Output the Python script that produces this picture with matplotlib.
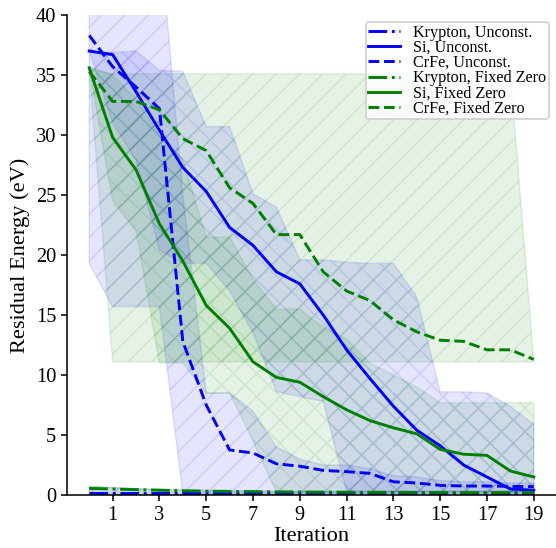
import numpy as np
import matplotlib
matplotlib.use("Agg")
import matplotlib.pyplot as plt

iterations = list(range(20))

# mean residual energy per iteration (eV)
kr_unc = [0.15, 0.15, 0.15, 0.15, 0.15, 0.15, 0.15, 0.15, 0.15, 0.15,
          0.15, 0.15, 0.15, 0.15, 0.15, 0.15, 0.15, 0.15, 0.15, 0.15]
si_unc = [37.0, 36.7, 33.6, 30.4, 27.3, 25.3, 22.3, 20.8, 18.6, 17.6,
          15.0, 12.1, 9.7, 7.4, 5.4, 4.1, 2.5, 1.5, 0.5, 0.4]
crfe_unc = [38.3, 35.7, 34.0, 32.2, 12.8, 7.5, 3.75, 3.5, 2.6, 2.4,
            2.05, 1.95, 1.8, 1.1, 1.0, 0.8, 0.75, 0.75, 0.72, 0.7]
kr_fz = [0.55, 0.5, 0.45, 0.4, 0.35, 0.32, 0.3, 0.28, 0.26, 0.25,
         0.24, 0.23, 0.22, 0.22, 0.21, 0.21, 0.2, 0.2, 0.2, 0.2]
si_fz = [35.6, 29.8, 27.1, 22.6, 19.5, 15.8, 13.9, 11.1, 9.8, 9.4,
         8.2, 7.1, 6.2, 5.6, 5.1, 3.8, 3.4, 3.3, 2.0, 1.5]
crfe_fz = [35.3, 32.8, 32.8, 32.1, 29.7, 28.7, 25.6, 24.3, 21.7, 21.7,
           18.6, 17.0, 16.2, 14.6, 13.6, 12.9, 12.8, 12.1, 12.1, 11.3]

# min / max envelopes
kr_unc_lo = [0.0] * 20
kr_unc_hi = [0.7, 0.6, 0.5, 0.45, 0.4, 0.35, 0.3, 0.3, 0.3, 0.3,
             0.3, 0.3, 0.3, 0.3, 0.3, 0.3, 0.3, 0.3, 0.3, 0.3]
si_unc_lo = [37.0, 31.0, 27.9, 20.4, 19.3, 19.3, 17.0, 13.5, 8.6, 8.2,
             7.8, 0.3, 0.3, 0.3, 0.3, 0.3, 0.3, 0.3, 0.3, 0.3]
si_unc_hi = [36.9, 36.9, 37.0, 35.4, 35.3, 30.7, 30.7, 25.1, 24.0, 19.6,
             19.6, 19.4, 19.3, 19.3, 16.5, 8.6, 8.6, 8.5, 7.4, 5.9]
crfe_unc_lo = [19.3, 15.7, 15.7, 15.7, 0.1, 0.1, 0.1, 0.1, 0.1, 0.1,
               0.1, 0.1, 0.1, 0.1, 0.1, 0.1, 0.1, 0.1, 0.1, 0.1]
crfe_unc_hi = [60.0, 58.0, 55.0, 47.0, 25.0, 8.5, 8.5, 7.0, 4.0, 3.0,
               2.5, 2.5, 2.2, 1.6, 1.5, 1.2, 1.1, 1.1, 1.0, 1.0]
kr_fz_lo = [0.0] * 20
kr_fz_hi = [0.75, 0.65, 0.55, 0.5, 0.45, 0.4, 0.35, 0.35, 0.3, 0.3,
            0.3, 0.3, 0.3, 0.3, 0.3, 0.3, 0.3, 0.3, 0.3, 0.3]
si_fz_lo = [35.5, 24.5, 22.0, 11.0, 11.0, 8.5, 8.5, 4.5, 0.2, 0.2,
            0.2, 0.2, 0.2, 0.2, 0.2, 0.2, 0.2, 0.2, 0.2, 0.2]
si_fz_hi = [35.7, 35.0, 33.0, 30.0, 28.0, 21.5, 21.5, 18.0, 15.5, 15.5,
            14.0, 13.0, 11.0, 10.0, 9.0, 7.7, 7.7, 7.7, 7.7, 7.7]
crfe_fz_lo = [35.3, 11.1, 11.1, 11.1, 11.1, 11.1, 11.1, 11.1, 11.1, 11.1,
              11.1, 11.1, 11.1, 11.1, 11.1, 11.1, 11.1, 11.1, 11.1, 11.1]
crfe_fz_hi = [35.5, 35.1, 35.1, 35.1, 35.1, 35.1, 35.1, 35.1, 35.1, 35.1,
              35.1, 35.1, 35.1, 35.1, 35.1, 35.1, 35.1, 35.1, 35.1, 11.3]

plt.rcParams["font.family"] = ["Liberation Serif", "DejaVu Serif"]
plt.rcParams["hatch.linewidth"] = 0.8

dpi = 140
fig = plt.figure(figsize=(556 / dpi, 548 / dpi), dpi=dpi)
ax = fig.add_axes([0.1205, 0.0967, 0.8795, 0.8759])

series = [
    ("Krypton, Unconst.", kr_unc, kr_unc_lo, kr_unc_hi, "blue", "-.", "//"),
    ("Si, Unconst.", si_unc, si_unc_lo, si_unc_hi, "blue", "-", "xx"),
    ("CrFe, Unconst.", crfe_unc, crfe_unc_lo, crfe_unc_hi, "blue", "--", "//"),
    ("Krypton, Fixed Zero", kr_fz, kr_fz_lo, kr_fz_hi, "green", "-.", "//"),
    ("Si, Fixed Zero", si_fz, si_fz_lo, si_fz_hi, "green", "-", "xx"),
    ("CrFe, Fixed Zero", crfe_fz, crfe_fz_lo, crfe_fz_hi, "green", "--", "//"),
]

for label, mean, lo, hi, color, ls, hatch in series:
    ax.fill_between(iterations, lo, hi, color=color, alpha=0.1, hatch=hatch, lw=0.8)
    ax.plot(iterations, mean, color=color, linestyle=ls, lw=1.5, label=label)

ax.set_xlim(-0.95, 19.95)
ax.set_ylim(0, 40)
ax.set_xticks(range(1, 20, 2))
ax.set_yticks(range(0, 41, 5))
ax.tick_params(labelsize=10.5, length=3, width=0.8, pad=2.5)
ax.spines["top"].set_visible(False)
ax.spines["right"].set_visible(False)
ax.spines["left"].set_linewidth(0.8)
ax.spines["bottom"].set_linewidth(0.8)
ax.set_xlabel("Iteration", fontsize=11.5, labelpad=1)
ax.set_ylabel("Residual Energy (eV)", fontsize=11.5, labelpad=3)

ax.legend(loc="upper right", fontsize=8.3, labelspacing=-0.05, handlelength=2.0,
          borderpad=0.15, handletextpad=0.8, borderaxespad=0.45)

fig.savefig("out.png", dpi=dpi)
